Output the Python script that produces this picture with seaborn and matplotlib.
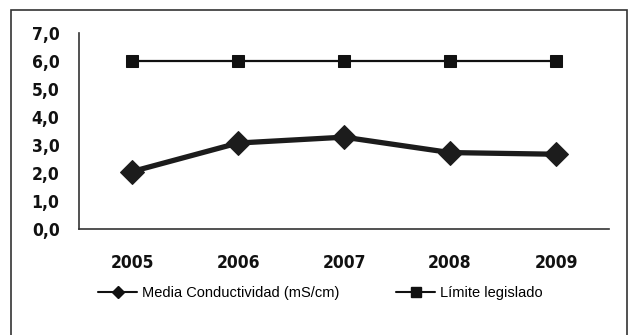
import matplotlib
matplotlib.use("Agg")
import matplotlib.pyplot as plt
from matplotlib.lines import Line2D
from matplotlib.patches import Rectangle
import seaborn as sns
import pandas as pd

years = ["2005", "2006", "2007", "2008", "2009"]
conductividad = [2.05, 3.07, 3.28, 2.73, 2.67]
limite = [6.0, 6.0, 6.0, 6.0, 6.0]
yticks = [0, 1, 2, 3, 4, 5, 6, 7]
label_cond = "Media Conductividad (mS/cm)"
label_lim = "Límite legislado"

sns.set_theme(style="white")
plt.rcParams['font.family'] = ['DejaVu Sans']

df = pd.DataFrame({"year": years, "cond": conductividad, "lim": limite})

fig = plt.figure(figsize=(6.28, 3.35), dpi=100)
ax = fig.add_axes([79/628, 1-229/335, (609-79)/628, (229-33)/335])

sns.lineplot(data=df, x="year", y="cond", ax=ax, sort=False, color="#1c1c1c",
             linewidth=3.8, marker="D", markersize=12, markeredgecolor="#1c1c1c")
sns.lineplot(data=df, x="year", y="lim", ax=ax, sort=False, color="#111111",
             linewidth=1.6, marker="s", markersize=8.5, markeredgecolor="#111111")

ax.set_xlim(-0.5, 4.5)
ax.set_ylim(0, 7)
ax.set_yticks(yticks)
ax.set_yticklabels([f"{v:.1f}".replace(".", ",") for v in yticks])
ax.set_xlabel("")
ax.set_ylabel("")
for s in ["top", "right"]:
    ax.spines[s].set_visible(False)
for s in ["left", "bottom"]:
    ax.spines[s].set_color("#333333")
    ax.spines[s].set_linewidth(1.2)
ax.tick_params(axis="both", length=0, labelsize=12.5, colors="#111111")
ax.tick_params(axis="y", pad=14)
ax.tick_params(axis="x", pad=18)
for t in ax.get_xticklabels() + ax.get_yticklabels():
    t.set_fontweight("bold")
    t.set_fontstretch("condensed")
ax.grid(False)

handles = [
    Line2D([], [], color="#111111", linewidth=1.5, marker="D", markersize=6),
    Line2D([], [], color="#111111", linewidth=1.5, marker="s", markersize=7),
]
fig.legend(handles, [label_cond, label_lim], loc="center",
           bbox_to_anchor=(320/628, 1-293/335), ncol=2, frameon=False,
           handlelength=2.7, handletextpad=0.3, columnspacing=3.9,
           borderpad=0, labelcolor="#000000",
           prop={"family": "Liberation Sans", "size": 10.5})

fig.add_artist(Rectangle((11/628, -0.05), (627-11)/628, 1.05 - 10/335,
                         transform=fig.transFigure, fill=False,
                         edgecolor="#333333", linewidth=1.2))

fig.savefig("out.png", dpi=100)
